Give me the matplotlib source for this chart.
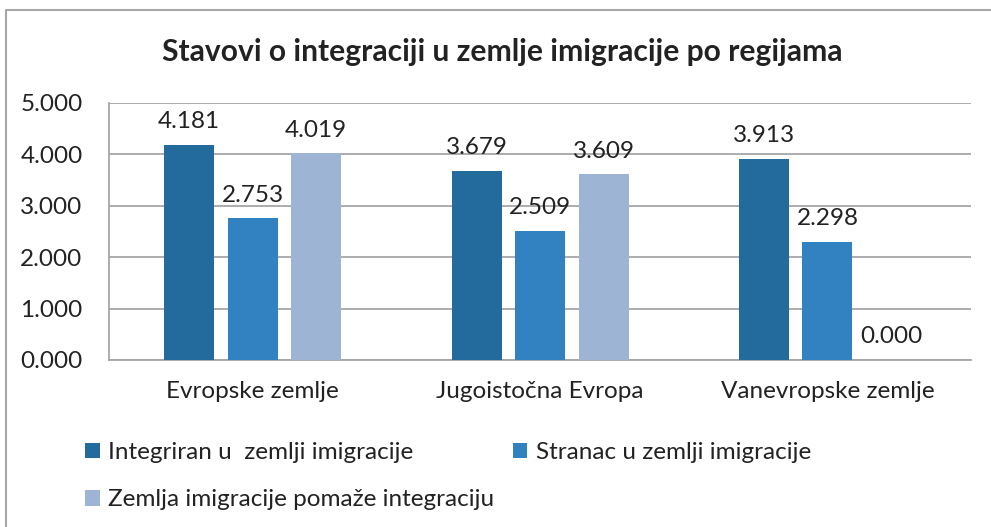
import matplotlib.pyplot as plt
from matplotlib.lines import Line2D
import numpy as np

plt.rcParams['font.family'] = ['Lato', 'DejaVu Sans']

regions = ['Evropske zemlje', 'Jugoistočna Evropa', 'Vanevropske zemlje']
series = ['Integriran u  zemlji imigracije', 'Stranac u zemlji imigracije',
          'Zemlja imigracije pomaže integraciju']
integriran = [4.181, 3.679, 3.913]
stranac = [2.753, 2.509, 2.298]
pomaze = [4.019, 3.609, 0.000]
colors = ['#246B9D', '#3282C2', '#9DB4D4']

fs = 17.5
fig = plt.figure(figsize=(9.91, 5.27), dpi=100)
ax = fig.add_axes([0.110, 0.317, 0.870, 0.488])

x = np.arange(len(regions))
step = 0.221
width = 0.174
bars = []
for i, (vals, c) in enumerate(zip([integriran, stranac, pomaze], colors)):
    b = ax.bar(x + (i - 1) * step, vals, width, color=c, label=series[i], zorder=3)
    bars.append(b)
    for xi, v in zip(x + (i - 1) * step, vals):
        ax.annotate(f'{v:.3f}', (xi, v), xytext=(0, 9), textcoords='offset points',
                    ha='center', va='bottom', fontsize=fs, color='#222222')

ax.set_xlim(-0.5, 2.5)
ax.set_ylim(0, 5)
ax.set_yticks(np.arange(0, 5.01, 1))
ax.set_yticklabels([f'{v:.3f}' for v in np.arange(0, 5.01, 1)])
ax.set_xticks(x)
ax.set_xticklabels(regions)
ax.tick_params(axis='y', length=0, pad=19, labelsize=fs, labelcolor='#222222')
ax.tick_params(axis='x', length=0, pad=15, labelsize=fs, labelcolor='#222222')
ax.grid(axis='y', color='#A6A6A6', linewidth=1.3, zorder=0)
for s in ['top', 'right']:
    ax.spines[s].set_visible(False)
for s in ['left', 'bottom']:
    ax.spines[s].set_color('#A6A6A6')
    ax.spines[s].set_linewidth(1.3)

fig.text(0.507, 0.901, 'Stavovi o integraciji u zemlje imigracije po regijama',
         ha='center', va='center', fontsize=21.6, fontweight='bold', color='#222222')

# legend in row order: item1, item2 / item3
handles = [bars[0], bars[2], bars[1]]
labels = [series[0], series[2], series[1]]
fig.legend(handles, labels, ncol=2, loc='upper left', bbox_to_anchor=(0.086, 0.161),
           frameon=False, fontsize=fs, handlelength=0.6, handleheight=0.6,
           handletextpad=0.35, columnspacing=0.75, labelspacing=1.08,
           labelcolor='#222222', borderaxespad=0, borderpad=0)

# outer chart border (left and top visible)
bx = 6 / 991
by = 1 - 10 / 527
fig.add_artist(Line2D([bx, bx, 1.0], [0.0, by, by], transform=fig.transFigure,
                      color='#A6A6A6', linewidth=1.5))

plt.savefig('out.png', dpi=100)
